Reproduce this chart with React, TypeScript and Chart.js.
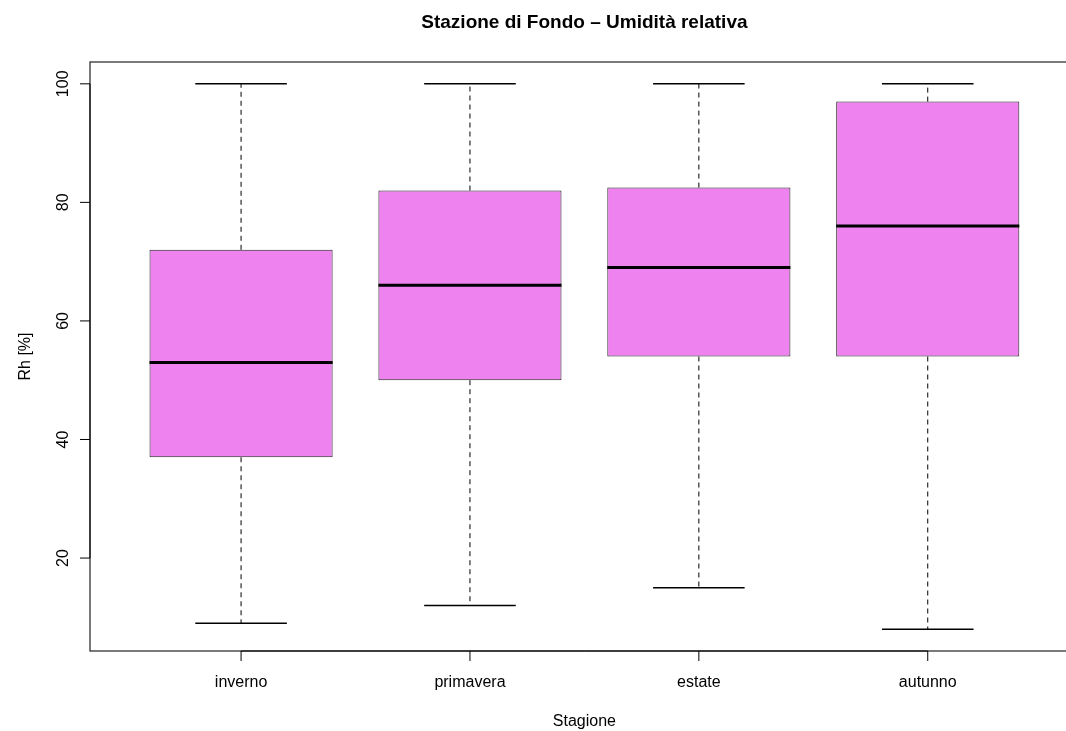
import React, { useEffect, useRef } from "react";
import { Chart, registerables } from "chart.js";

Chart.register(...registerables);

// ---- data ----
const categories = ["inverno", "primavera", "estate", "autunno"];
const whiskerLow = [9, 12, 15, 8];
const q1 = [37, 50, 54, 54];
const medians = [53, 66, 69, 76];
const q3 = [72, 82, 82.5, 97];
const whiskerHigh = [100, 100, 100, 100];
const yTicks = [20, 40, 60, 80, 100];

const TITLE = "Stazione di Fondo \u2013 Umidit\u00e0 relativa";
const X_TITLE = "Stagione";
const Y_TITLE = "Rh [%]";

// ---- layout / style constants ----
const BOX_W = 0.8;
const CAP_W = 0.4;
const X_MIN = 0.34;
const X_FULL_MAX = 4.66;
const X_MAX = 4.604;
const Y_MIN = 4.32;
const Y_MAX = 103.68;
const FONT = "'Liberation Sans', Arial, Helvetica, sans-serif";
const FILL = "#EE82EE";

const positions = categories.map((_, i) => i + 1);

const boxData = positions.map((p, i) => ({ x: p, y: [q1[i], q3[i]] }));

const whiskerData = positions.flatMap((p, i) => [
  { x: p, y: q3[i] },
  { x: p, y: whiskerHigh[i] },
  { x: p, y: null },
  { x: p, y: q1[i] },
  { x: p, y: whiskerLow[i] },
  { x: p, y: null },
]);

const capData = positions.flatMap((p, i) => [
  { x: p - CAP_W / 2, y: whiskerHigh[i] },
  { x: p + CAP_W / 2, y: whiskerHigh[i] },
  { x: p, y: null },
  { x: p - CAP_W / 2, y: whiskerLow[i] },
  { x: p + CAP_W / 2, y: whiskerLow[i] },
  { x: p, y: null },
]);

const medianData = positions.flatMap((p, i) => [
  { x: p - BOX_W / 2, y: medians[i] },
  { x: p + BOX_W / 2, y: medians[i] },
  { x: p, y: null },
]);

const rDecor = {
  id: "rDecor",
  afterDraw(chart: any) {
    const { ctx, chartArea, scales } = chart;
    const { left, top, bottom } = chartArea;
    const x = scales.x;
    const y = scales.y;
    const fullRight = x.getPixelForValue(X_FULL_MAX);
    ctx.save();
    // plot box
    ctx.strokeStyle = "#222";
    ctx.lineWidth = 1.2;
    ctx.strokeRect(left, top, fullRight - left, bottom - top);

    ctx.fillStyle = "#000";
    ctx.strokeStyle = "#000";
    ctx.lineWidth = 1;
    // y axis ticks and labels
    ctx.font = `16px ${FONT}`;
    ctx.beginPath();
    ctx.moveTo(left, y.getPixelForValue(yTicks[0]));
    ctx.lineTo(left, y.getPixelForValue(yTicks[yTicks.length - 1]));
    ctx.stroke();
    yTicks.forEach((v) => {
      const py = y.getPixelForValue(v);
      ctx.beginPath();
      ctx.moveTo(left - 10, py);
      ctx.lineTo(left, py);
      ctx.stroke();
      ctx.save();
      ctx.translate(68, py);
      ctx.rotate(-Math.PI / 2);
      ctx.textAlign = "center";
      ctx.textBaseline = "alphabetic";
      ctx.fillText(String(v), 0, 0);
      ctx.restore();
    });
    // x axis ticks and labels
    ctx.beginPath();
    ctx.moveTo(x.getPixelForValue(positions[0]), bottom);
    ctx.lineTo(x.getPixelForValue(positions[positions.length - 1]), bottom);
    ctx.stroke();
    positions.forEach((p, i) => {
      const px = x.getPixelForValue(p);
      ctx.beginPath();
      ctx.moveTo(px, bottom);
      ctx.lineTo(px, bottom + 10);
      ctx.stroke();
      ctx.textAlign = "center";
      ctx.textBaseline = "alphabetic";
      ctx.fillText(categories[i], px, 687);
    });
    const cx = (left + fullRight) / 2;
    // axis titles
    ctx.textAlign = "center";
    ctx.fillText(X_TITLE, cx, 726);
    ctx.save();
    ctx.translate(30, (top + bottom) / 2);
    ctx.rotate(-Math.PI / 2);
    ctx.fillText(Y_TITLE, 0, 0);
    ctx.restore();
    // title
    ctx.font = `bold 19px ${FONT}`;
    ctx.fillText(TITLE, cx, 28);
    ctx.restore();
  },
};

export default function App() {
  const ref = useRef<HTMLCanvasElement | null>(null);
  useEffect(() => {
    if (!ref.current) return;
    const chart = new Chart(ref.current, {
      type: "bar",
      data: {
        datasets: [
          {
            type: "line",
            label: "median",
            data: medianData as any,
            borderColor: "#000",
            borderWidth: 3,
            pointRadius: 0,
            spanGaps: false,
            borderCapStyle: "butt",
            order: 0,
          },
          {
            type: "line",
            label: "caps",
            data: capData as any,
            borderColor: "#000",
            borderWidth: 1.5,
            pointRadius: 0,
            spanGaps: false,
            borderCapStyle: "butt",
            order: 1,
          },
          {
            type: "line",
            label: "whiskers",
            data: whiskerData as any,
            borderColor: "#000",
            borderWidth: 1,
            borderDash: [5, 4],
            pointRadius: 0,
            spanGaps: false,
            borderCapStyle: "butt",
            order: 2,
          },
          {
            type: "bar",
            label: "box",
            data: boxData as any,
            backgroundColor: FILL,
            borderColor: "#222",
            borderWidth: 1,
            borderSkipped: false,
            barPercentage: BOX_W,
            categoryPercentage: 1,
            order: 3,
          },
        ],
      },
      options: {
        animation: false,
        responsive: false,
        maintainAspectRatio: false,
        events: [],
        layout: { padding: { left: 90, top: 62, right: 0, bottom: 80 } },
        plugins: {
          legend: { display: false },
          tooltip: { enabled: false },
          title: { display: false },
        },
        scales: {
          x: {
            type: "linear",
            min: X_MIN,
            max: X_MAX,
            offset: false,
            display: false,
            afterBuildTicks: (axis: any) => {
              axis.ticks = positions.map((v) => ({ value: v }));
            },
          },
          y: {
            type: "linear",
            min: Y_MIN,
            max: Y_MAX,
            display: false,
            afterBuildTicks: (axis: any) => {
              axis.ticks = yTicks.map((v) => ({ value: v }));
            },
          },
        },
      },
      plugins: [rDecor],
    });
    return () => chart.destroy();
  }, []);
  return (
    <div style={{ position: "absolute", left: 0, top: 0, width: 1066, height: 731, background: "#fff" }}>
      <canvas ref={ref} width={1066} height={731} style={{ display: "block" }} />
    </div>
  );
}
